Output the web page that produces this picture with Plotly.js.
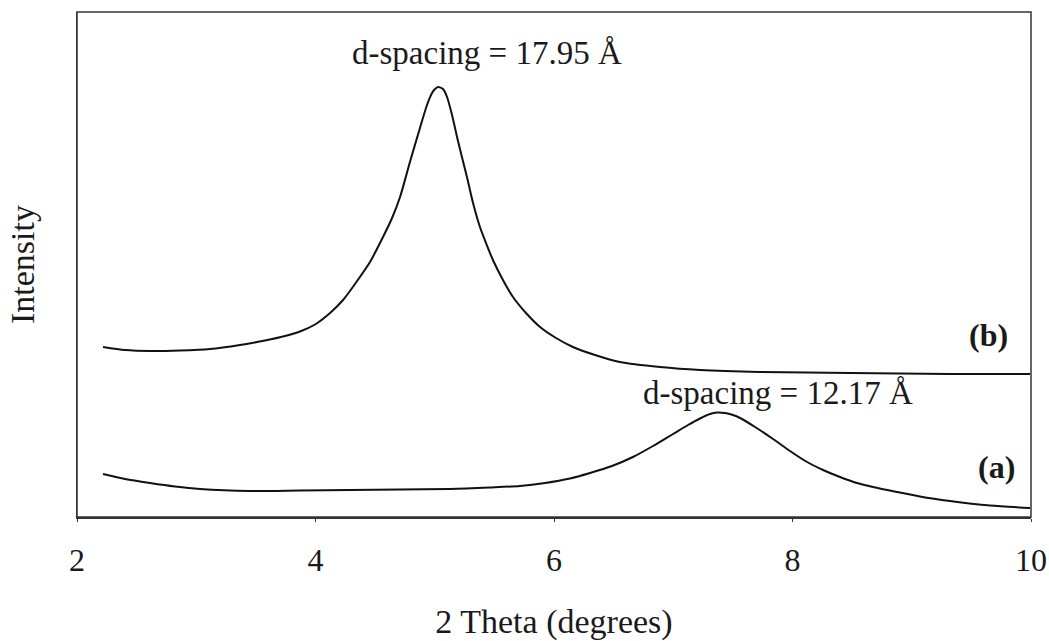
<!DOCTYPE html>
<html>
<head>
<meta charset="utf-8">
<script src="https://cdn.plot.ly/plotly-3.0.1.min.js"></script>
<style>html,body{margin:0;padding:0;background:#fff;}#chart{width:1049px;height:641px;}</style>
</head>
<body>
<div id="chart"></div>
<script>
// Curve (b): upper pattern (2θ in degrees, intensity in arbitrary units)
const thetaB = [2.218, 2.403, 2.612, 2.864, 3.115, 3.367, 3.577, 3.744, 3.870, 3.996,
  4.122, 4.231, 4.331, 4.457, 4.566, 4.642, 4.709, 4.792, 4.876, 4.935,
  4.977, 5.002, 5.027, 5.069, 5.103, 5.145, 5.187, 5.228, 5.270, 5.321,
  5.379, 5.430, 5.488, 5.572, 5.656, 5.765, 5.883, 6.017, 6.159, 6.344,
  6.553, 6.889, 7.224, 7.727, 8.482, 9.321, 9.992];
const intensityB = [170, 167, 166, 166.5, 168, 172, 176.5, 181, 185.5, 192.5,
  204, 217, 233, 255, 280, 299, 320, 355, 389, 412,
  424, 428, 430, 428, 420, 402, 380, 360, 340, 314,
  290, 274, 257, 237, 220, 204, 190, 179, 170, 162,
  155, 150, 147, 145, 144, 143, 143];
// Curve (a): lower pattern
const thetaA = [2.218, 2.403, 2.612, 2.822, 3.031, 3.451, 3.870, 4.289, 4.709, 5.128,
  5.463, 5.715, 5.925, 6.134, 6.302, 6.486, 6.662, 6.830, 6.998, 7.124,
  7.224, 7.308, 7.367, 7.434, 7.501, 7.560, 7.686, 7.837, 7.979, 8.122,
  8.256, 8.398, 8.541, 8.675, 8.876, 9.069, 9.321, 9.656, 9.992];
const intensityA = [43, 38, 34, 30.5, 28, 26, 26.5, 27, 27.5, 28,
  29.5, 31, 34, 38.5, 44, 51, 60, 71, 83, 92,
  98.5, 103, 104.5, 104, 102, 99, 90, 78, 66, 55,
  47, 40, 34, 30, 25, 20.5, 16, 11.5, 9];

const xTickVals = [2, 4, 6, 8, 10];
const xTickText = ['2', '4', '6', '8', '10'];

const labelB = 'd-spacing = 17.95 Å';
const labelA = 'd-spacing = 12.17 Å';
const seriesNames = ['(a)', '(b)'];

const serif = 'Liberation Serif, Times New Roman, serif';
const ink = '#1a1a1a';
const lineStyle = {color: '#111', width: 2, shape: 'spline', smoothing: 0.7};

const traces = [
  {x: thetaA, y: intensityA, mode: 'lines', line: lineStyle, name: seriesNames[0], hoverinfo: 'skip'},
  {x: thetaB, y: intensityB, mode: 'lines', line: lineStyle, name: seriesNames[1], hoverinfo: 'skip'}
];

const layout = {
  width: 1049, height: 641,
  margin: {l: 77, r: 18, t: 12, b: 124},
  paper_bgcolor: '#fff', plot_bgcolor: '#fff',
  showlegend: false,
  font: {family: serif, color: ink},
  xaxis: {
    range: [2, 10], showgrid: false, zeroline: false,
    showline: true, linecolor: '#333', linewidth: 1.5,
    ticks: 'outside', ticklen: 3, tickcolor: '#333',
    tickvals: xTickVals, ticktext: xTickText,
    tickfont: {family: serif, size: 32, color: ink},
    ticklabelstandoff: 11,
    title: {text: '2 Theta (degrees)', font: {family: serif, size: 34, color: ink}, standoff: 33}
  },
  yaxis: {
    range: [0, 505], showgrid: false, zeroline: false,
    showline: true, linecolor: '#333', linewidth: 1.5,
    ticks: '', showticklabels: false,
    title: {text: 'Intensity', font: {family: serif, size: 34, color: ink}, standoff: 30}
  },
  shapes: [
    {type: 'rect', xref: 'paper', yref: 'paper', x0: 0, x1: 1, y0: 0, y1: 1,
     line: {color: '#333', width: 1.5}, fillcolor: 'rgba(0,0,0,0)', layer: 'above'}
  ],
  annotations: [
    {x: 5.44, y: 464, xref: 'x', yref: 'y', text: labelB, showarrow: false, font: {family: serif, size: 33, color: ink}},
    {x: 7.88, y: 124, xref: 'x', yref: 'y', text: labelA, showarrow: false, font: {family: serif, size: 33, color: ink}},
    {x: 9.64, y: 182, xref: 'x', yref: 'y', text: '<b>' + seriesNames[1] + '</b>', showarrow: false, font: {family: serif, size: 32, color: ink}},
    {x: 9.71, y: 50, xref: 'x', yref: 'y', text: '<b>' + seriesNames[0] + '</b>', showarrow: false, font: {family: serif, size: 32, color: ink}}
  ]
};

Plotly.newPlot('chart', traces, layout, {displayModeBar: false, staticPlot: true});
</script>
</body>
</html>
